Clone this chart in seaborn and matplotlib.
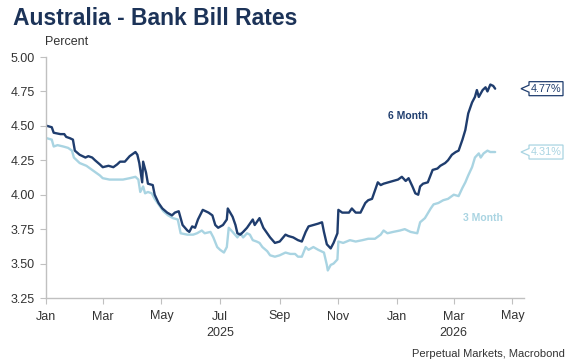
import matplotlib
matplotlib.use("Agg")
import matplotlib.pyplot as plt
from matplotlib.patches import Polygon
from matplotlib.transforms import blended_transform_factory, ScaledTranslation
import seaborn as sns
import pandas as pd

# ---------------- data ----------------
dates_6m = [
    "2025-01-02", "2025-01-07", "2025-01-09", "2025-01-16", "2025-01-20", "2025-01-22",
    "2025-01-26", "2025-01-29", "2025-01-31", "2025-02-05", "2025-02-11", "2025-02-14",
    "2025-02-18", "2025-02-21", "2025-02-26", "2025-03-01", "2025-03-07", "2025-03-12",
    "2025-03-16", "2025-03-19", "2025-03-24", "2025-03-29", "2025-04-02", "2025-04-04",
    "2025-04-06", "2025-04-08", "2025-04-11", "2025-04-12", "2025-04-15", "2025-04-17",
    "2025-04-22", "2025-04-24", "2025-04-28", "2025-05-02", "2025-05-07", "2025-05-12",
    "2025-05-15", "2025-05-19", "2025-05-23", "2025-05-28", "2025-05-30", "2025-06-02",
    "2025-06-05", "2025-06-08", "2025-06-13", "2025-06-19", "2025-06-23", "2025-06-26",
    "2025-06-29", "2025-07-04", "2025-07-08", "2025-07-09", "2025-07-14", "2025-07-17",
    "2025-07-19", "2025-07-22", "2025-07-25", "2025-07-29", "2025-08-01", "2025-08-04",
    "2025-08-06", "2025-08-11", "2025-08-15", "2025-08-19", "2025-08-22", "2025-08-27",
    "2025-09-01", "2025-09-07", "2025-09-10", "2025-09-15", "2025-09-20", "2025-09-24",
    "2025-09-28", "2025-10-01", "2025-10-06", "2025-10-11", "2025-10-15", "2025-10-17",
    "2025-10-20", "2025-10-24", "2025-10-27", "2025-10-31", "2025-11-01", "2025-11-05",
    "2025-11-08", "2025-11-12", "2025-11-15", "2025-11-19", "2025-11-24", "2025-11-29",
    "2025-12-02", "2025-12-06", "2025-12-09", "2025-12-12", "2025-12-15", "2025-12-18",
    "2025-12-23", "2025-12-28", "2026-01-02", "2026-01-06", "2026-01-10", "2026-01-13",
    "2026-01-17", "2026-01-20", "2026-01-23", "2026-01-25", "2026-01-28", "2026-02-02",
    "2026-02-07", "2026-02-12", "2026-02-15", "2026-02-20", "2026-02-23", "2026-02-27",
    "2026-03-03", "2026-03-06", "2026-03-10", "2026-03-13", "2026-03-16", "2026-03-20",
    "2026-03-23", "2026-03-25", "2026-03-27", "2026-03-31", "2026-04-03", "2026-04-05",
    "2026-04-08", "2026-04-11", "2026-04-13",
]
rate_6m = [
    4.50, 4.49, 4.45, 4.44, 4.44, 4.42,
    4.41, 4.40, 4.32, 4.29, 4.27, 4.28,
    4.27, 4.25, 4.22, 4.20, 4.21, 4.20,
    4.22, 4.24, 4.24, 4.28, 4.30, 4.31,
    4.29, 4.23, 4.09, 4.24, 4.16, 4.08,
    4.07, 4.00, 3.94, 3.90, 3.87, 3.85,
    3.87, 3.88, 3.78, 3.74, 3.73, 3.77,
    3.76, 3.82, 3.89, 3.87, 3.85, 3.78,
    3.76, 3.78, 3.82, 3.90, 3.84, 3.78,
    3.72, 3.71, 3.73, 3.76, 3.79, 3.82,
    3.78, 3.83, 3.76, 3.72, 3.69, 3.65,
    3.66, 3.71, 3.70, 3.69, 3.67, 3.66,
    3.73, 3.77, 3.78, 3.79, 3.80, 3.73,
    3.64, 3.61, 3.65, 3.72, 3.89, 3.87,
    3.87, 3.87, 3.90, 3.87, 3.87, 3.94,
    3.96, 3.97, 4.03, 4.09, 4.07, 4.08,
    4.09, 4.10, 4.11, 4.13, 4.10, 4.12,
    4.06, 4.01, 4.00, 4.06, 4.08, 4.09,
    4.18, 4.19, 4.21, 4.23, 4.25, 4.29,
    4.31, 4.32, 4.40, 4.47, 4.59, 4.67,
    4.71, 4.76, 4.71, 4.76, 4.78, 4.75,
    4.80, 4.79, 4.77,
]

dates_3m = [
    "2025-01-02", "2025-01-07", "2025-01-09", "2025-01-13", "2025-01-19", "2025-01-24",
    "2025-01-28", "2025-01-30", "2025-02-05", "2025-02-12", "2025-02-18", "2025-02-26",
    "2025-03-01", "2025-03-08", "2025-03-16", "2025-03-22", "2025-03-29", "2025-04-04",
    "2025-04-07", "2025-04-09", "2025-04-12", "2025-04-14", "2025-04-17", "2025-04-21",
    "2025-04-24", "2025-04-28", "2025-05-03", "2025-05-08", "2025-05-13", "2025-05-18",
    "2025-05-21", "2025-05-28", "2025-06-03", "2025-06-07", "2025-06-12", "2025-06-15",
    "2025-06-21", "2025-06-24", "2025-06-28", "2025-07-01", "2025-07-05", "2025-07-08",
    "2025-07-10", "2025-07-14", "2025-07-19", "2025-07-22", "2025-07-25", "2025-07-29",
    "2025-08-01", "2025-08-04", "2025-08-08", "2025-08-11", "2025-08-14", "2025-08-19",
    "2025-08-22", "2025-08-27", "2025-09-01", "2025-09-07", "2025-09-12", "2025-09-17",
    "2025-09-20", "2025-09-24", "2025-09-28", "2025-10-01", "2025-10-06", "2025-10-11",
    "2025-10-17", "2025-10-20", "2025-10-21", "2025-10-24", "2025-10-27", "2025-10-31",
    "2025-11-01", "2025-11-06", "2025-11-13", "2025-11-19", "2025-11-26", "2025-12-02",
    "2025-12-09", "2025-12-15", "2025-12-18", "2025-12-22", "2025-12-28", "2026-01-04",
    "2026-01-09", "2026-01-15", "2026-01-22", "2026-01-25", "2026-01-30", "2026-02-05",
    "2026-02-08", "2026-02-13", "2026-02-18", "2026-02-23", "2026-03-01", "2026-03-06",
    "2026-03-10", "2026-03-13", "2026-03-16", "2026-03-20", "2026-03-23", "2026-03-27",
    "2026-03-29", "2026-04-01", "2026-04-05", "2026-04-08", "2026-04-13",
]
rate_3m = [
    4.41, 4.40, 4.35, 4.36, 4.35, 4.34,
    4.32, 4.27, 4.23, 4.21, 4.18, 4.14,
    4.12, 4.11, 4.11, 4.11, 4.12, 4.13,
    4.11, 4.02, 4.06, 4.01, 4.02, 4.01,
    3.97, 3.93, 3.88, 3.85, 3.83, 3.82,
    3.72, 3.71, 3.71, 3.72, 3.74, 3.72,
    3.73, 3.69, 3.62, 3.60, 3.58, 3.62,
    3.76, 3.73, 3.69, 3.72, 3.69, 3.72,
    3.71, 3.67, 3.66, 3.65, 3.62, 3.59,
    3.56, 3.55, 3.56, 3.58, 3.57, 3.57,
    3.55, 3.55, 3.62, 3.60, 3.62, 3.60,
    3.58, 3.49, 3.45, 3.49, 3.50, 3.53,
    3.66, 3.65, 3.67, 3.66, 3.67, 3.68,
    3.68, 3.71, 3.74, 3.72, 3.73, 3.74,
    3.75, 3.73, 3.72, 3.80, 3.83, 3.90,
    3.93, 3.94, 3.96, 3.97, 4.00, 3.99,
    4.05, 4.09, 4.14, 4.20, 4.27, 4.30,
    4.27, 4.30, 4.32, 4.31, 4.31,
]

series_names = ["6 Month", "3 Month"]
y_ticks = [3.25, 3.50, 3.75, 4.00, 4.25, 4.50, 4.75, 5.00]
x_tick_dates = ["2025-01-01", "2025-03-01", "2025-05-01", "2025-07-01", "2025-09-01",
                "2025-11-01", "2026-01-01", "2026-03-01", "2026-05-01"]
x_tick_labels = ["Jan", "Mar", "May", "Jul\n2025", "Sep", "Nov", "Jan", "Mar\n2026", "May"]
title = "Australia - Bank Bill Rates"
y_label = "Percent"
source = "Perpetual Markets, Macrobond"

# ---------------- styling ----------------
NAVY = "#1f3d6e"
LIGHT = "#a9d4e2"
TEXT = "#333333"
AXIS = "#c0c0c0"

sns.set_theme(style="white")
plt.rcParams["font.family"] = ["Liberation Sans", "DejaVu Sans"]

df = pd.concat([
    pd.DataFrame({"date": pd.to_datetime(dates_6m), "rate": rate_6m, "series": series_names[0]}),
    pd.DataFrame({"date": pd.to_datetime(dates_3m), "rate": rate_3m, "series": series_names[1]}),
])

fig = plt.figure(figsize=(5.75, 3.64), dpi=100)
ax = fig.add_axes([46 / 575, 1 - 298 / 364, (524 - 46) / 575, (298 - 57) / 364])

sns.lineplot(data=df, x="date", y="rate", hue="series",
             hue_order=[series_names[1], series_names[0]],
             palette={series_names[0]: NAVY, series_names[1]: LIGHT},
             linewidth=1.7, legend=False, ax=ax)

ax.set_xlim(pd.Timestamp("2025-01-01"), pd.Timestamp("2026-05-13"))
ax.set_ylim(3.25, 5.00)
ax.set_yticks(y_ticks)
ax.set_yticklabels([f"{v:.2f}" for v in y_ticks])
ax.set_xticks(pd.to_datetime(x_tick_dates))
ax.set_xticklabels(x_tick_labels)
ax.set_xlabel("")
ax.set_ylabel("")

for s in ["top", "right"]:
    ax.spines[s].set_visible(False)
for s in ["left", "bottom"]:
    ax.spines[s].set_color(AXIS)
    ax.spines[s].set_linewidth(1.0)

ax.tick_params(axis="both", which="major", length=4, width=0.8, color=AXIS,
               labelsize=9, labelcolor=TEXT, direction="out")
ax.tick_params(axis="y", pad=4, left=True)
ax.tick_params(axis="x", pad=5, bottom=True)
for lbl in ax.get_xticklabels():
    lbl.set_linespacing(1.55)

# Title / axis unit / source
fig.text(13 / 575, 1 - 25 / 364, title, fontsize=16.5, fontweight="bold",
         color="#1c3358", ha="left", va="baseline")
fig.text(45 / 575, 1 - 42 / 364, y_label, fontsize=9, color=TEXT, ha="left", va="center")
fig.text(565 / 575, 1 - 354 / 364, source, fontsize=8, color=TEXT, ha="right", va="center")

# Series labels
ax.text(pd.Timestamp("2026-01-12"), 4.57, series_names[0], fontsize=7.5, fontweight="bold",
        color=NAVY, ha="center", va="center")
ax.text(pd.Timestamp("2026-03-31"), 3.83, series_names[1], fontsize=7.5, fontweight="bold",
        color=LIGHT, ha="center", va="center")

# End-value callouts
blend = blended_transform_factory(fig.transFigure, ax.transData)
for val, col in [(rate_6m[-1], NAVY), (rate_3m[-1], LIGHT)]:
    tip_x = 521 / 575
    trans = fig.dpi_scale_trans + ScaledTranslation(tip_x, val, blend)
    w0, w1, h, n = 0.08, 0.42, 0.07, 0.035
    poly = Polygon([(0, 0), (w0, n), (w0, h), (w1, h), (w1, -h), (w0, -h), (w0, -n)],
                   closed=True, facecolor="white", edgecolor=col, linewidth=0.9,
                   transform=trans, clip_on=False)
    fig.add_artist(poly)
    fig.text(0.25, 0.0, f"{val:.2f}%", transform=trans, fontsize=7.8, color=col,
             ha="center", va="center")

fig.savefig("out.png", dpi=100)
